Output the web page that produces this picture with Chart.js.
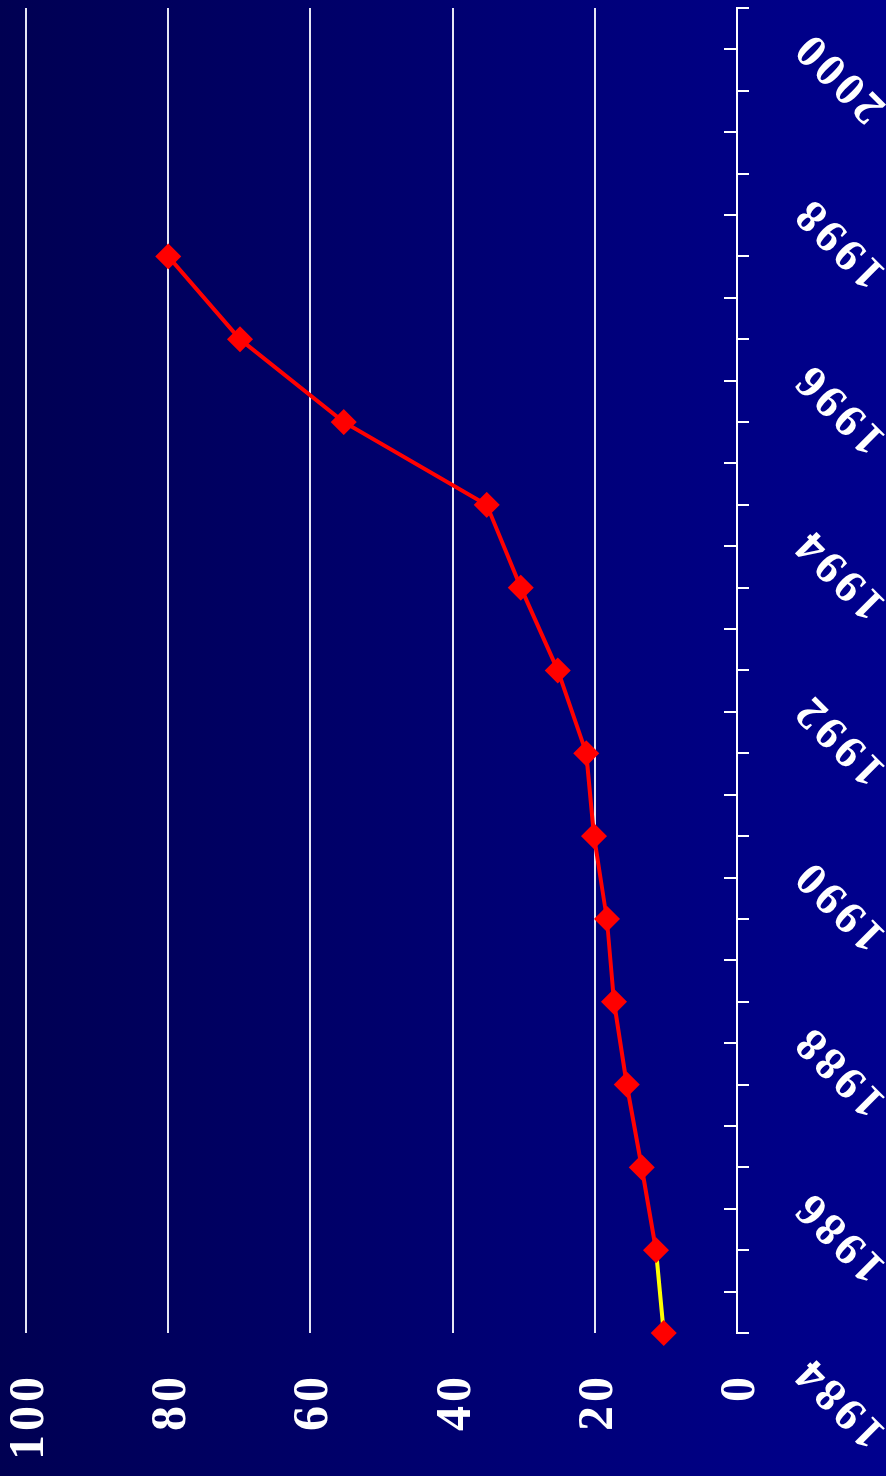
<!DOCTYPE html>
<html>
<head>
<meta charset="utf-8">
<script src="https://cdn.jsdelivr.net/npm/chart.js@4"></script>
<style>
  html, body { margin: 0; padding: 0; }
  body {
    width: 886px; height: 1476px; overflow: hidden; position: relative;
    background: linear-gradient(to right, #000052, #00008e);
  }
  /* the chart is laid out landscape and turned a quarter turn counter-clockwise */
  #wrap {
    position: absolute; left: 0; top: 1476px;
    width: 1476px; height: 886px;
    transform-origin: 0 0; transform: rotate(-90deg);
  }
</style>
</head>
<body>
<div id="wrap"><canvas id="c" width="1476" height="886"></canvas></div>
<script>
// yearly values
const years  = [1984, 1985, 1986, 1987, 1988, 1989, 1990, 1991, 1992, 1993, 1994, 1995, 1996, 1997];
const values = [10.3, 11.4, 13.4, 15.5, 17.3, 18.3, 20.1, 21.2, 25.2, 30.4, 35.2, 55.3, 69.9, 80.0];

// axis ticks
const yearTicks   = [1984, 1985, 1986, 1987, 1988, 1989, 1990, 1991, 1992, 1993, 1994, 1995, 1996, 1997, 1998, 1999, 2000];
const yearLabels  = ['1984', '', '1986', '', '1988', '', '1990', '', '1992', '', '1994', '', '1996', '', '1998', '', '2000'];
const valueTicks  = [0, 20, 40, 60, 80, 100];

const WHITE = '#ffffff';
const serif = 'Liberation Serif, Times New Roman, serif';

// wider letter spacing for all chart text
const spacing = {
  id: 'spacing',
  beforeDraw(chart) { chart.ctx.letterSpacing = '4px'; }
};

// short inward tick marks halfway between the yearly ticks
const halfTicks = {
  id: 'halfTicks',
  afterDraw(chart) {
    const xs = chart.scales.x;
    const bottom = chart.chartArea.bottom;
    const ctx = chart.ctx;
    ctx.save();
    ctx.strokeStyle = WHITE;
    ctx.lineWidth = 2;
    ctx.beginPath();
    for (let i = 0; i < yearTicks.length - 1; i++) {
      const px = Math.round(xs.getPixelForValue((yearTicks[i] + yearTicks[i + 1]) / 2));
      ctx.moveTo(px, bottom);
      ctx.lineTo(px, bottom - 13);
    }
    ctx.stroke();
    ctx.restore();
  }
};

new Chart(document.getElementById('c'), {
  type: 'line',
  data: {
    datasets: [{
      data: years.map((y, i) => ({ x: y, y: values[i] })),
      borderColor: '#ff0000',
      borderWidth: 4,
      segment: {
        borderColor: ctx => ctx.p0DataIndex === 0 ? '#ffff00' : '#ff0000'
      },
      pointStyle: 'rectRot',
      pointRadius: 13,
      pointHoverRadius: 13,
      pointBackgroundColor: '#ff0000',
      pointBorderWidth: 0,
      tension: 0,
      fill: false,
      clip: false
    }]
  },
  options: {
    responsive: false,
    animation: false,
    devicePixelRatio: 1,
    layout: { autoPadding: false, padding: { top: 26, right: 8, left: 0, bottom: 0 } },
    plugins: { legend: { display: false }, tooltip: { enabled: false } },
    scales: {
      x: {
        type: 'linear',
        min: yearTicks[0],
        max: yearTicks[yearTicks.length - 1],
        afterBuildTicks: s => { s.ticks = yearTicks.map(v => ({ value: v })); },
        afterFit: s => {
          s.height = 149;
          s.paddingLeft = 0; s.paddingRight = 0; s.paddingTop = 0; s.paddingBottom = 0;
        },
        grid: { drawOnChartArea: false, drawTicks: true, tickLength: 12, color: WHITE, lineWidth: 2 },
        border: { display: true, color: WHITE, width: 2 },
        ticks: {
          autoSkip: false,
          minRotation: 45,
          maxRotation: 45,
          padding: 34,
          labelOffset: -30,
          color: WHITE,
          font: { family: serif, size: 46, weight: 'bold' },
          callback: (v, i) => yearLabels[i]
        }
      },
      y: {
        min: valueTicks[0],
        max: valueTicks[valueTicks.length - 1],
        afterBuildTicks: s => { s.ticks = valueTicks.map(v => ({ value: v })); },
        afterFit: s => {
          s.width = 143;
          s.paddingLeft = 0; s.paddingRight = 0; s.paddingTop = 0; s.paddingBottom = 0;
        },
        grid: { drawTicks: false, color: '#e6e6f4', lineWidth: 2 },
        border: { display: false },
        ticks: {
          padding: 40,
          labelOffset: 4,
          color: WHITE,
          font: { family: serif, size: 50, weight: 'bold', lineHeight: 1 }
        }
      }
    }
  },
  plugins: [spacing, halfTicks]
});
</script>
</body>
</html>
